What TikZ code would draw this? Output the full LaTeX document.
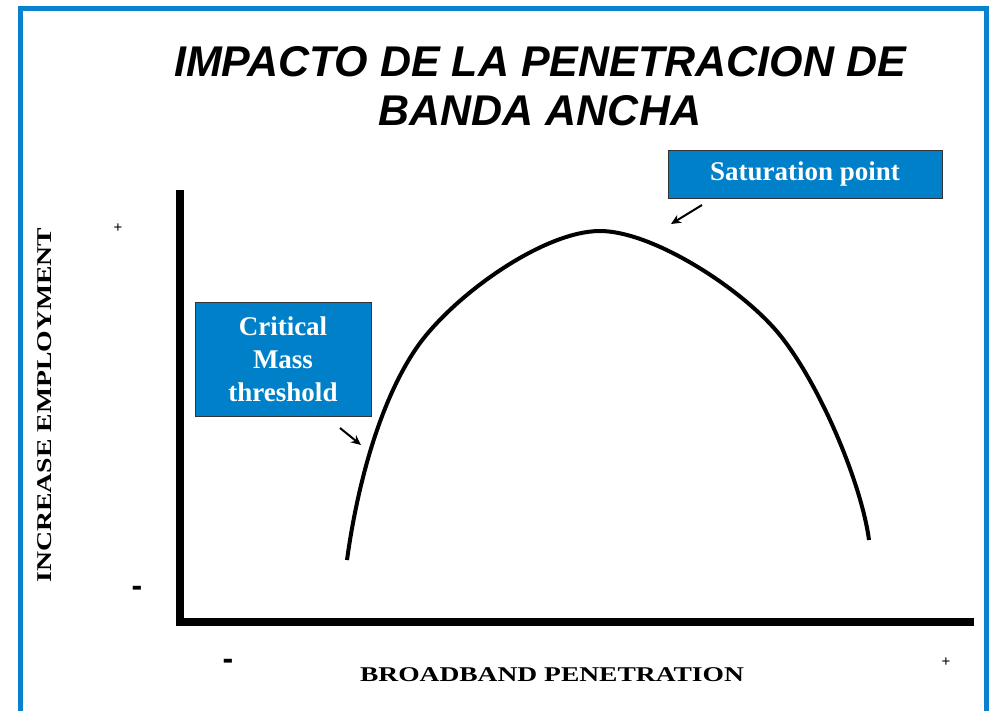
\documentclass[tikz,border=0pt]{standalone}
\usepackage{fontspec}
\setmainfont{Liberation Serif}
\newfontfamily\titlefont{Liberation Sans}
\usetikzlibrary{arrows.meta}
\definecolor{frameblue}{RGB}{8,130,206}
\definecolor{boxblue}{RGB}{0,128,200}
\begin{document}
\begin{tikzpicture}[x=1pt,y=-1pt,
  bluebox/.style={draw=black!80,line width=1pt,fill=boxblue,text=white,font=\bfseries\fontsize{27}{33}\selectfont,align=center,inner sep=0pt},
  axisline/.style={line width=8pt},
  axislabel/.style={font=\bfseries\fontsize{21}{24}\selectfont},
  signlabel/.style={font=\titlefont\bfseries\fontsize{32}{32}\selectfont},
  pluslabel/.style={font=\titlefont\fontsize{15}{15}\selectfont},
  pointer/.style={line width=2pt,-{Stealth[length=10pt,width=9pt]}},
  curveline/.style={line width=4pt,line cap=butt,line join=round}]
\useasboundingbox (0,0) rectangle (993,710);
% frame
\draw[frameblue,line width=5pt] (20.5,720) -- (20.5,8) -- (986,8) -- (986,720);
% title
\node[font=\titlefont\bfseries\itshape\fontsize{43}{49}\selectfont,align=center] (title) at (540,86) {IMPACTO DE LA PENETRACION DE\\BANDA ANCHA};
% axes
\coordinate (ytop) at (180,190);
\coordinate (ybot) at (180,626);
\coordinate (xstart) at (177,622);
\coordinate (xend) at (974,622);
\draw[axisline] (ytop) -- (ybot);
\draw[axisline] (xstart) -- (xend);
% axis labels
\node[rotate=90,axislabel] (ylab) at (45,405) {\scalebox{1.32}[1]{INCREASE EMPLOYMENT}};
\node[axislabel] (xlab) at (552,675) {\scalebox{1.31}[1]{BROADBAND PENETRATION}};
\node[pluslabel] (yplus) at (118,228) {+};
\node[signlabel] (yminus) at (137,591) {-};
\node[signlabel] (xminus) at (228,664) {-};
\node[pluslabel] (xplus) at (946,662) {+};
% curve
\coordinate (c0) at (347,560);
\coordinate (c1) at (420,343);
\coordinate (c2) at (600,231);
\coordinate (c3) at (773,327);
\coordinate (c4) at (869,540);
\draw[curveline] (c0) .. controls (358,480) and (382,395) .. (c1)
  .. controls (458,292) and (545,231) .. (c2)
  .. controls (650,231) and (733,283) .. (c3)
  .. controls (815,373) and (861,480) .. (c4);
% boxes
\node[bluebox,minimum width=176pt,minimum height=114pt] (crit) at (283,359) {Critical\\Mass\\threshold};
\node[bluebox,minimum width=274pt,minimum height=48pt] (sat) at (805,174) {Saturation point};
% pointers
\coordinate (critfrom) at (340,428);
\coordinate (critto) at (361,445);
\coordinate (satfrom) at (702,205);
\coordinate (satto) at (671,224);
\draw[pointer] (critfrom) -- (critto);
\draw[pointer] (satfrom) -- (satto);
\end{tikzpicture}
\end{document}
